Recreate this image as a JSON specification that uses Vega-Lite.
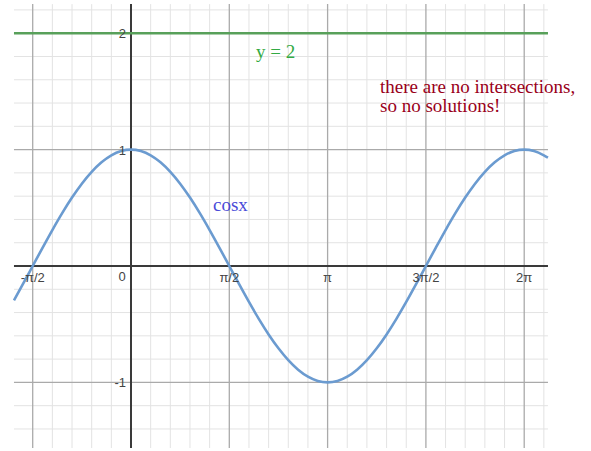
{
  "$schema": "https://vega.github.io/schema/vega-lite/v6.json",
  "width": 591,
  "height": 451,
  "autosize": "none",
  "padding": 0,
  "background": "white",
  "config": {"view": {"stroke": null}},
  "datasets": {
    "vgrid": [
      {"v": -1.5708, "major": true}, {"v": -1.2566, "major": false}, {"v": -0.9425, "major": false}, {"v": -0.6283, "major": false}, {"v": -0.3142, "major": false},
      {"v": 0, "major": true}, {"v": 0.3142, "major": false}, {"v": 0.6283, "major": false}, {"v": 0.9425, "major": false}, {"v": 1.2566, "major": false},
      {"v": 1.5708, "major": true}, {"v": 1.885, "major": false}, {"v": 2.1991, "major": false}, {"v": 2.5133, "major": false}, {"v": 2.8274, "major": false},
      {"v": 3.1416, "major": true}, {"v": 3.4558, "major": false}, {"v": 3.7699, "major": false}, {"v": 4.0841, "major": false}, {"v": 4.3982, "major": false},
      {"v": 4.7124, "major": true}, {"v": 5.0265, "major": false}, {"v": 5.3407, "major": false}, {"v": 5.6549, "major": false}, {"v": 5.969, "major": false},
      {"v": 6.2832, "major": true}, {"v": 6.5973, "major": false}
    ],
    "hgrid": [
      {"v": -1.4, "major": false}, {"v": -1.2, "major": false}, {"v": -1, "major": true}, {"v": -0.8, "major": false}, {"v": -0.6, "major": false},
      {"v": -0.4, "major": false}, {"v": -0.2, "major": false}, {"v": 0, "major": true}, {"v": 0.2, "major": false}, {"v": 0.4, "major": false},
      {"v": 0.6, "major": false}, {"v": 0.8, "major": false}, {"v": 1, "major": true}, {"v": 1.2, "major": false}, {"v": 1.4, "major": false},
      {"v": 1.6, "major": false}, {"v": 1.8, "major": false}, {"v": 2, "major": true}, {"v": 2.2, "major": false}
    ],
    "cosine": [
      {"x": -1.87, "y": -0.2947}, {"x": -1.7279, "y": -0.1564}, {"x": -1.5708, "y": 0}, {"x": -1.4137, "y": 0.1564},
      {"x": -1.2566, "y": 0.309}, {"x": -1.0996, "y": 0.454}, {"x": -0.9425, "y": 0.5878}, {"x": -0.7854, "y": 0.7071},
      {"x": -0.6283, "y": 0.809}, {"x": -0.4712, "y": 0.891}, {"x": -0.3142, "y": 0.9511}, {"x": -0.1571, "y": 0.9877},
      {"x": 0, "y": 1}, {"x": 0.1571, "y": 0.9877}, {"x": 0.3142, "y": 0.9511}, {"x": 0.4712, "y": 0.891},
      {"x": 0.6283, "y": 0.809}, {"x": 0.7854, "y": 0.7071}, {"x": 0.9425, "y": 0.5878}, {"x": 1.0996, "y": 0.454},
      {"x": 1.2566, "y": 0.309}, {"x": 1.4137, "y": 0.1564}, {"x": 1.5708, "y": 0}, {"x": 1.7279, "y": -0.1564},
      {"x": 1.885, "y": -0.309}, {"x": 2.042, "y": -0.454}, {"x": 2.1991, "y": -0.5878}, {"x": 2.3562, "y": -0.7071},
      {"x": 2.5133, "y": -0.809}, {"x": 2.6704, "y": -0.891}, {"x": 2.8274, "y": -0.9511}, {"x": 2.9845, "y": -0.9877},
      {"x": 3.1416, "y": -1}, {"x": 3.2987, "y": -0.9877}, {"x": 3.4558, "y": -0.9511}, {"x": 3.6128, "y": -0.891},
      {"x": 3.7699, "y": -0.809}, {"x": 3.927, "y": -0.7071}, {"x": 4.0841, "y": -0.5878}, {"x": 4.2412, "y": -0.454},
      {"x": 4.3982, "y": -0.309}, {"x": 4.5553, "y": -0.1564}, {"x": 4.7124, "y": 0}, {"x": 4.8695, "y": 0.1564},
      {"x": 5.0265, "y": 0.309}, {"x": 5.1836, "y": 0.454}, {"x": 5.3407, "y": 0.5878}, {"x": 5.4978, "y": 0.7071},
      {"x": 5.6549, "y": 0.809}, {"x": 5.8119, "y": 0.891}, {"x": 5.969, "y": 0.9511}, {"x": 6.1261, "y": 0.9877},
      {"x": 6.2832, "y": 1}, {"x": 6.4403, "y": 0.9877}, {"x": 6.5973, "y": 0.9511}, {"x": 6.663, "y": 0.9309}
    ],
    "xticks": [
      {"x": -1.5708, "label": "-π/2"}, {"x": 1.5708, "label": "π/2"}, {"x": 3.1416, "label": "π"},
      {"x": 4.7124, "label": "3π/2"}, {"x": 6.2832, "label": "2π"}
    ],
    "yticks": [
      {"y": 2, "label": "2"}, {"y": 1, "label": "1"}, {"y": -1, "label": "-1"}
    ]
  },
  "encoding": {
    "x": {"type": "quantitative", "scale": {"domain": [-2.0933, 7.3506], "nice": false, "zero": false}, "axis": null},
    "y": {"type": "quantitative", "scale": {"domain": [-1.5893, 2.2852], "nice": false, "zero": false}, "axis": null}
  },
  "layer": [
    {
      "data": {"name": "vgrid"},
      "transform": [{"filter": "!datum.major"}],
      "mark": {"type": "rule", "stroke": "#e3e3e3", "strokeWidth": 1},
      "encoding": {"x": {"field": "v", "type": "quantitative"}, "y": {"datum": -1.5636}, "y2": {"datum": 2.25}}
    },
    {
      "data": {"name": "hgrid"},
      "transform": [{"filter": "!datum.major"}],
      "mark": {"type": "rule", "stroke": "#e3e3e3", "strokeWidth": 1},
      "encoding": {"y": {"field": "v", "type": "quantitative"}, "x": {"datum": -1.87}, "x2": {"datum": 6.663}}
    },
    {
      "data": {"name": "vgrid"},
      "transform": [{"filter": "datum.major"}],
      "mark": {"type": "rule", "stroke": "#aaaaaa", "strokeWidth": 1.3},
      "encoding": {"x": {"field": "v", "type": "quantitative"}, "y": {"datum": -1.5636}, "y2": {"datum": 2.25}}
    },
    {
      "data": {"name": "hgrid"},
      "transform": [{"filter": "datum.major"}],
      "mark": {"type": "rule", "stroke": "#aaaaaa", "strokeWidth": 1.3},
      "encoding": {"y": {"field": "v", "type": "quantitative"}, "x": {"datum": -1.87}, "x2": {"datum": 6.663}}
    },
    {
      "data": {"values": [{"v": 0}]},
      "mark": {"type": "rule", "stroke": "#3a3a3a", "strokeWidth": 2},
      "encoding": {"x": {"field": "v", "type": "quantitative"}, "y": {"datum": -1.5636}, "y2": {"datum": 2.25}}
    },
    {
      "data": {"values": [{"v": 0}]},
      "mark": {"type": "rule", "stroke": "#3a3a3a", "strokeWidth": 2},
      "encoding": {"y": {"field": "v", "type": "quantitative"}, "x": {"datum": -1.87}, "x2": {"datum": 6.663}}
    },
    {
      "data": {"name": "cosine"},
      "mark": {"type": "line", "stroke": "#6b9bd0", "strokeWidth": 2.6, "interpolate": "monotone"},
      "encoding": {"x": {"field": "x", "type": "quantitative"}, "y": {"field": "y", "type": "quantitative"}}
    },
    {
      "data": {"values": [{"y": 2}]},
      "mark": {"type": "rule", "stroke": "#58a05a", "strokeWidth": 2.4},
      "encoding": {"y": {"field": "y", "type": "quantitative"}, "x": {"datum": -1.87}, "x2": {"datum": 6.663}}
    },
    {
      "data": {"name": "xticks"},
      "mark": {"type": "text", "font": "Liberation Sans", "fontSize": 13, "fill": "#444444", "align": "center", "baseline": "middle", "dy": 12},
      "encoding": {"x": {"field": "x", "type": "quantitative"}, "y": {"datum": 0}, "text": {"field": "label"}}
    },
    {
      "data": {"values": [{"x": 0, "label": "0"}]},
      "mark": {"type": "text", "font": "Liberation Sans", "fontSize": 13, "fill": "#444444", "align": "center", "baseline": "middle", "dx": -9, "dy": 11},
      "encoding": {"x": {"field": "x", "type": "quantitative"}, "y": {"datum": 0}, "text": {"field": "label"}}
    },
    {
      "data": {"name": "yticks"},
      "mark": {"type": "text", "font": "Liberation Sans", "fontSize": 13, "fill": "#444444", "align": "right", "baseline": "middle", "dx": -5, "dy": 1},
      "encoding": {"y": {"field": "y", "type": "quantitative"}, "x": {"datum": 0}, "text": {"field": "label"}}
    },
    {
      "data": {"values": [
        {"x": 1.997, "y": 1.838, "label": "y = 2", "kind": "line"},
        {"x": 1.31, "y": 0.524, "label": "cosx", "kind": "curve"},
        {"x": 3.979, "y": 1.538, "label": "there are no intersections,", "kind": "note"},
        {"x": 3.979, "y": 1.375, "label": "so no solutions!", "kind": "note"}
      ]},
      "mark": {"type": "text", "font": "Liberation Serif", "fontSize": 19, "align": "left", "baseline": "middle"},
      "encoding": {
        "x": {"field": "x", "type": "quantitative"},
        "y": {"field": "y", "type": "quantitative"},
        "text": {"field": "label"},
        "color": {"field": "kind", "type": "nominal", "scale": {"domain": ["line", "curve", "note"], "range": ["#33aa44", "#4a4ad8", "#99001a"]}, "legend": null}
      }
    }
  ]
}
